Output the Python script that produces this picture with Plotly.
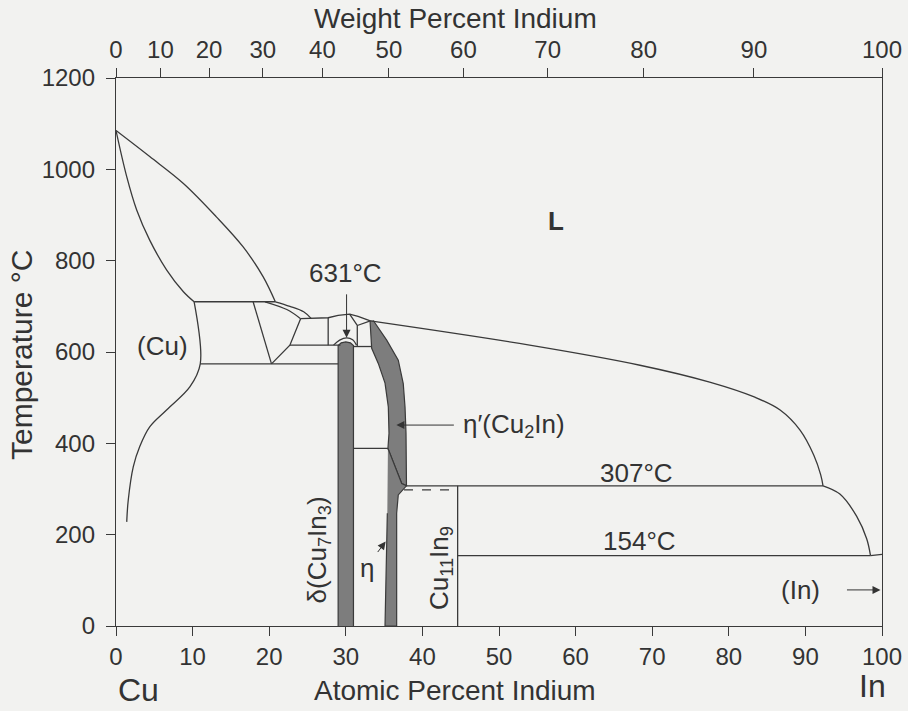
import plotly.graph_objects as go

# ---------------- data (x = atomic % In, y = temperature in °C) ----------------
cu_liq_x = [0, 4.4, 8.8, 13.1, 16.6, 19.2, 20.8]
cu_liq_y = [1085, 1028, 969, 896, 830, 765, 710]

cu_sol_x = [0, 1.4, 2.7, 4.4, 6.6, 8.8, 10.2]
cu_sol_y = [1085, 984, 911, 845, 780, 732, 710]

cu_solvus_x = [10.2, 11.0, 9.66, 6.6, 4.4, 3.1, 2.26, 1.6, 1.4]
cu_solvus_y = [710, 574, 524, 473, 436, 393, 349, 276, 228]

peri_x = [10.2, 20.8]
peri_y = [710, 710]

beta_left_x = [17.9, 20.3]
beta_left_y = [710, 574]

eutectoid_x = [11.0, 29.0]
eutectoid_y = [574, 574]

beta_right_x = [20.3, 22.7, 24.1]
beta_right_y = [574, 615, 673]

lens_up_x = [20.8, 22.7, 24.5, 25.5]
lens_up_y = [710, 700, 688, 673]

lens_lo_x = [19.45, 22.3, 24.1]
lens_lo_y = [710, 693, 673]

liq_gamma_x = [24.1, 27.7, 29.0, 30.5, 31.6, 33.2]
liq_gamma_y = [673, 675, 680, 683, 678, 668]

liq_main_x = [33.2, 54.0, 68.4, 77.5, 83.4, 86.7, 89.3, 91.1, 92.0, 92.3]
liq_main_y = [668, 615, 571, 534, 501, 473, 429, 374, 331, 307]

liq_in_x = [92.3, 94.5, 96.7, 98.0, 98.5]
liq_in_y = [307, 289, 240, 191, 154]

in_sol_x = [98.5, 100]
in_sol_y = [154, 157]

gamma_left_x = [27.7, 27.7]
gamma_left_y = [675, 615]

h615_x = [22.7, 29.3]
h615_y = [615, 615]

gamma_right_x = [30.5, 31.5, 31.5]
gamma_right_y = [683, 658, 612]

tri_x = [31.5, 33.2]
tri_y = [658, 668]

h612_x = [31.0, 33.3]
h612_y = [612, 612]

dome_x = [28.4, 29.2, 30.1, 30.9, 31.4]
dome_y = [615, 626, 631, 627, 615]

delta_x = [29.0, 29.0, 29.4, 30.0, 30.6, 31.0, 31.0]
delta_y = [0, 614, 620, 622, 620, 614, 0]

h389_x = [31.0, 35.5]
h389_y = [389, 389]

etap_x = [33.16, 33.38, 34.24, 35.12, 35.55, 35.64, 35.5, 37.3, 37.92,
          37.92, 37.86, 37.73, 37.5, 36.85, 35.34, 33.59]
etap_y = [669, 608, 575, 532, 480, 422, 389, 312, 307,
          307, 422, 480, 531, 582, 626, 669]

eta_x = [35.5, 37.3, 37.92, 36.85, 36.64, 36.64, 35.12, 35.42]
eta_y = [389, 312, 307, 287, 247, 0, 0, 247]

h307_x = [37.92, 92.3]
h307_y = [307, 307]

dash_x = [37.6, 44.6]
dash_y = [298, 298]

cu11_x = [44.6, 44.6]
cu11_y = [0, 307]

h154_x = [44.6, 98.5]
h154_y = [154, 154]

# top axis: weight percent indium
wt_ticks = [0, 10, 20, 30, 40, 50, 60, 70, 80, 90, 100]
M_IN, M_CU = 114.82, 63.546

x_ticks = [0, 10, 20, 30, 40, 50, 60, 70, 80, 90, 100]
y_ticks = [0, 200, 400, 600, 800, 1000, 1200]

# ---------------- figure ----------------
LINE = "#3a3a3a"
FILL = "#7d7d7d"
BG = "#f2f2f0"
FONT = "Liberation Sans, Arial, sans-serif"

fig = go.Figure()


def seg(xs, ys, dash=None, width=1.3, shape="linear"):
    fig.add_trace(go.Scatter(x=xs, y=ys, mode="lines",
                             line=dict(color=LINE, width=width, dash=dash, shape=shape),
                             hoverinfo="skip", showlegend=False))


def region(xs, ys):
    fig.add_trace(go.Scatter(x=xs, y=ys, mode="lines", fill="toself",
                             fillcolor=FILL, line=dict(color=LINE, width=1.2),
                             hoverinfo="skip", showlegend=False))


region(delta_x, delta_y)
region(etap_x, etap_y)
region(eta_x, eta_y)

for xs, ys in [(cu_liq_x, cu_liq_y), (cu_sol_x, cu_sol_y), (cu_solvus_x, cu_solvus_y),
               (lens_up_x, lens_up_y), (lens_lo_x, lens_lo_y),
               (liq_main_x, liq_main_y), (liq_in_x, liq_in_y), (dome_x, dome_y)]:
    seg(xs, ys, shape="spline")

for xs, ys in [(peri_x, peri_y), (beta_left_x, beta_left_y), (eutectoid_x, eutectoid_y),
               (beta_right_x, beta_right_y), (liq_gamma_x, liq_gamma_y),
               (in_sol_x, in_sol_y), (gamma_left_x, gamma_left_y), (h615_x, h615_y),
               (gamma_right_x, gamma_right_y), (tri_x, tri_y), (h612_x, h612_y),
               (h389_x, h389_y), (h307_x, h307_y), (cu11_x, cu11_y), (h154_x, h154_y)]:
    seg(xs, ys)
seg(dash_x, dash_y, dash="dash", width=1.1)

# invisible trace so the top (weight %) axis is drawn
fig.add_trace(go.Scatter(x=[0, 100], y=[0, 0], xaxis="x2", mode="markers",
                         marker=dict(opacity=0), hoverinfo="skip", showlegend=False))

top_pos = [(w / M_IN) / (w / M_IN + (100 - w) / M_CU) * 100 for w in wt_ticks]

tickfont = dict(family=FONT, size=24, color="#333")
fig.update_layout(
    width=908, height=711,
    margin=dict(l=116, r=26, t=78, b=85),
    paper_bgcolor=BG, plot_bgcolor=BG,
    font=dict(family=FONT, color="#333"),
    xaxis=dict(range=[0, 100], tickvals=x_ticks, ticks="outside", ticklen=9,
               tickcolor=LINE, tickwidth=1.2, showline=True, linecolor=LINE,
               linewidth=1.3, showgrid=False, zeroline=False, tickfont=tickfont,
               automargin=False),
    xaxis2=dict(range=[0, 100], overlaying="x", side="top", tickvals=top_pos,
                ticktext=[str(w) for w in wt_ticks], ticks="outside", ticklen=9,
                tickcolor=LINE, tickwidth=1.2, showline=True, linecolor=LINE,
                linewidth=1.3, showgrid=False, zeroline=False, tickfont=tickfont,
                automargin=False),
    yaxis=dict(range=[0, 1200], tickvals=y_ticks, ticks="outside", ticklen=9,
               tickcolor=LINE, tickwidth=1.2, showline=True, linecolor=LINE,
               linewidth=1.3, mirror=True, showgrid=False, zeroline=False,
               tickfont=tickfont, automargin=False, ticklabelstandoff=6),
)


def label(x, y, text, size=26, angle=0, xref="x", yref="y"):
    fig.add_annotation(x=x, y=y, xref=xref, yref=yref, text=text, showarrow=False,
                       xanchor="center", yanchor="middle", textangle=angle,
                       font=dict(family=FONT, size=size, color="#333"))


def arrow(x, y, ax, ay):
    fig.add_annotation(x=x, y=y, xref="x", yref="y", text="", showarrow=True,
                       ax=ax, ay=ay, arrowhead=2, arrowsize=1.6, arrowwidth=1,
                       arrowcolor="#333")


# axis titles
label(0.4426, 1.109, "Weight Percent Indium", size=28, xref="paper", yref="paper")
label(-0.1240, 0.4945, "Temperature °C", size=30, angle=-90, xref="paper", yref="paper")
label(0.4426, -0.117, "Atomic Percent Indium", size=28, xref="paper", yref="paper")
label(0.030, -0.117, "Cu", size=32, xref="paper", yref="paper")
label(0.988, -0.110, "In", size=32, xref="paper", yref="paper")

# phase labels
label(57.4, 887, "<b>L</b>", size=26)
label(6.1, 613, "(Cu)")
label(30.0, 773, "631°C")
arrow(30.1, 631, 0, -45)
label(52.0, 440, "η′(Cu<sub>2</sub>In)")
arrow(36.6, 440, 59, 0)
label(67.9, 335, "307°C")
label(68.4, 186, "154°C")
label(89.3, 79, "(In)")
arrow(99.8, 79, -35, 0)
label(26.4, 166, "δ(Cu<sub>7</sub>In<sub>3</sub>)", angle=-90)
label(32.8, 128, "η")
arrow(35.2, 185, -9, 12)
label(42.3, 127, "Cu<sub>11</sub>In<sub>9</sub>", angle=-90)

fig.write_html("out.html")
